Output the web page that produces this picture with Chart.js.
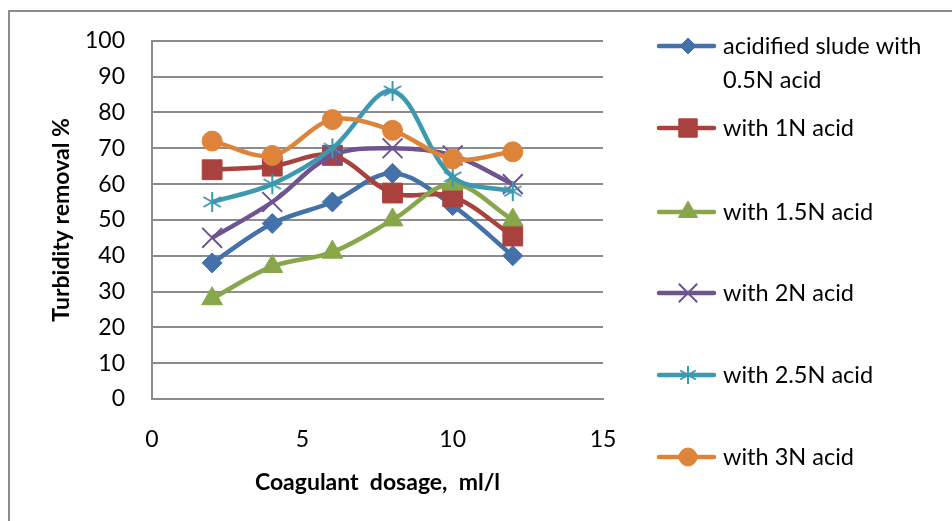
<!DOCTYPE html>
<html>
<head>
<meta charset="utf-8">
<script src="https://cdn.jsdelivr.net/npm/chart.js@4.4.1/dist/chart.umd.min.js"></script>
<style>
  html, body { margin: 0; padding: 0; background: #fff; }
  #wrap { position: relative; width: 952px; height: 521px; overflow: hidden; }
  #frame { position: absolute; left: 8px; top: 10px; width: 1000px; height: 600px;
           border-left: 2px solid #8c8c8c; border-top: 2px solid #8c8c8c; box-sizing: border-box; }
  canvas { position: absolute; left: 0; top: 0; }
</style>
</head>
<body>
<div id="wrap">
  <div id="frame"></div>
  <canvas id="c" width="952" height="521"></canvas>
</div>
<script>
// ---- data ----
const dosage = [2, 4, 6, 8, 10, 12];
const seriesNames = [
  ["acidified slude with", "0.5N acid"],
  ["with 1N acid"],
  ["with 1.5N acid"],
  ["with 2N acid"],
  ["with 2.5N acid"],
  ["with 3N acid"]
];
const acid05 = [38, 49, 55, 63, 54, 40];
const acid1  = [64, 65, 68, 57.5, 56.5, 45.5];
const acid15 = [28, 37, 41, 50, 60, 50];
const acid2  = [45, 55, 68, 70, 68, 60];
const acid25 = [55, 60, 70, 86, 62, 58];
const acid3  = [72, 68, 78, 75, 67, 69];
const yTicks = [0, 10, 20, 30, 40, 50, 60, 70, 80, 90, 100];
const xTicks = [0, 5, 10, 15];

const colors = ['#4471A9', '#A9423F', '#88A64A', '#6E5490', '#3D98B0', '#DE843A'];

// asterisk marker (vertical + two diagonals)
function makeAsterisk(color, size, lw) {
  const c = document.createElement('canvas');
  c.width = size; c.height = size;
  const g = c.getContext('2d');
  g.strokeStyle = color; g.lineWidth = lw; g.lineCap = 'butt';
  const m = size / 2, r = size / 2 - 1;
  g.beginPath();
  g.moveTo(m, m - r); g.lineTo(m, m + r);
  const dx = r * Math.cos(Math.PI / 6), dy = r * Math.sin(Math.PI / 6);
  g.moveTo(m - dx, m - dy); g.lineTo(m + dx, m + dy);
  g.moveTo(m - dx, m + dy); g.lineTo(m + dx, m - dy);
  g.stroke();
  return c;
}
const asterPlot = makeAsterisk(colors[4], 22, 2);
const asterLeg = makeAsterisk(colors[4], 20, 2);

const values = [acid05, acid1, acid15, acid2, acid25, acid3];
const styles = [
  { pointStyle: 'rectRot', radius: 10, bw: 1 },
  { pointStyle: 'rect', radius: 14, bw: 1 },
  { pointStyle: 'triangle', radius: 12, bw: 1 },
  { pointStyle: 'crossRot', radius: 14, bw: 2 },
  { pointStyle: asterPlot, radius: 11, bw: 1 },
  { pointStyle: 'circle', radius: 10, bw: 1 }
];

const datasets = values.map((vals, i) => ({
  label: seriesNames[i].join(' '),
  data: dosage.map((x, j) => ({ x: x, y: vals[j] })),
  borderColor: colors[i],
  backgroundColor: colors[i],
  borderWidth: 4.5,
  tension: 0.35,
  pointStyle: styles[i].pointStyle,
  pointRadius: styles[i].radius,
  pointHoverRadius: styles[i].radius,
  pointBorderWidth: styles[i].bw,
  pointBorderColor: colors[i],
  pointBackgroundColor: colors[i],
  order: 6 - i
}));

const legendPlugin = {
  id: 'customLegend',
  afterDraw(chart) {
    const ctx = chart.ctx;
    const rows = [46, 128, 212, 293, 375, 457];
    const legStyles = [
      { pointStyle: 'rectRot', radius: 8, borderWidth: 1 },
      { pointStyle: 'rect', radius: 13, borderWidth: 1 },
      { pointStyle: 'triangle', radius: 11, borderWidth: 1 },
      { pointStyle: 'crossRot', radius: 13, borderWidth: 2 },
      { pointStyle: asterLeg, radius: 10, borderWidth: 1 },
      { pointStyle: 'circle', radius: 9, borderWidth: 1 }
    ];
    ctx.save();
    chart.data.datasets.forEach((ds, i) => {
      const y = rows[i];
      ctx.strokeStyle = ds.borderColor;
      ctx.lineWidth = 4.5;
      ctx.lineCap = 'round';
      ctx.beginPath();
      ctx.moveTo(659, y); ctx.lineTo(714, y);
      ctx.stroke();
      ctx.fillStyle = ds.borderColor;
      ctx.strokeStyle = ds.borderColor;
      ctx.lineWidth = legStyles[i].borderWidth;
      ctx.lineCap = 'butt';
      Chart.helpers.drawPoint(ctx, { pointStyle: legStyles[i].pointStyle, radius: legStyles[i].radius, rotation: 0, borderWidth: legStyles[i].borderWidth }, 688, y);
      ctx.fillStyle = '#000';
      ctx.font = '23.5px Lato';
      ctx.textBaseline = 'middle';
      ctx.textAlign = 'left';
      seriesNames[i].forEach((t, k) => ctx.fillText(t, 723, y + k * 34));
    });
    ctx.restore();
  }
};

new Chart(document.getElementById('c'), {
  type: 'line',
  data: { datasets: datasets },
  options: {
    responsive: false,
    animation: false,
    events: [],
    layout: { padding: { left: 0, right: 349, top: 40, bottom: 0 } },
    plugins: { legend: { display: false }, tooltip: { enabled: false } },
    scales: {
      x: {
        type: 'linear',
        min: 0, max: 15,
        afterBuildTicks(s) { s.ticks = xTicks.map(v => ({ value: v })); },
        afterFit(s) { s.height = 122; },
        grid: { display: false, drawTicks: false },
        border: { display: true, color: '#8c8c8c', width: 2 },
        ticks: { color: '#000', font: { family: 'Lato', size: 23 }, padding: 27, maxRotation: 0 },
        title: { display: true, text: 'Coagulant  dosage,  ml/l', color: '#000',
                 font: { family: 'Lato', size: 23, weight: 'bold' }, padding: { top: 0, bottom: 25 } }
      },
      y: {
        min: 0, max: 100,
        afterBuildTicks(s) { s.ticks = yTicks.map(v => ({ value: v })); },
        afterFit(s) { s.width = 152; },
        grid: { color: '#8c8c8c', lineWidth: 2, drawTicks: false },
        border: { display: true, color: '#8c8c8c', width: 2 },
        ticks: { color: '#000', font: { family: 'Lato', size: 23 }, padding: 27 },
        title: { display: true, text: 'Turbidity removal %', color: '#000',
                 font: { family: 'Lato', size: 23, weight: 'bold' }, padding: { top: 48, bottom: 0 } }
      }
    }
  },
  plugins: [legendPlugin]
});
</script>
</body>
</html>
